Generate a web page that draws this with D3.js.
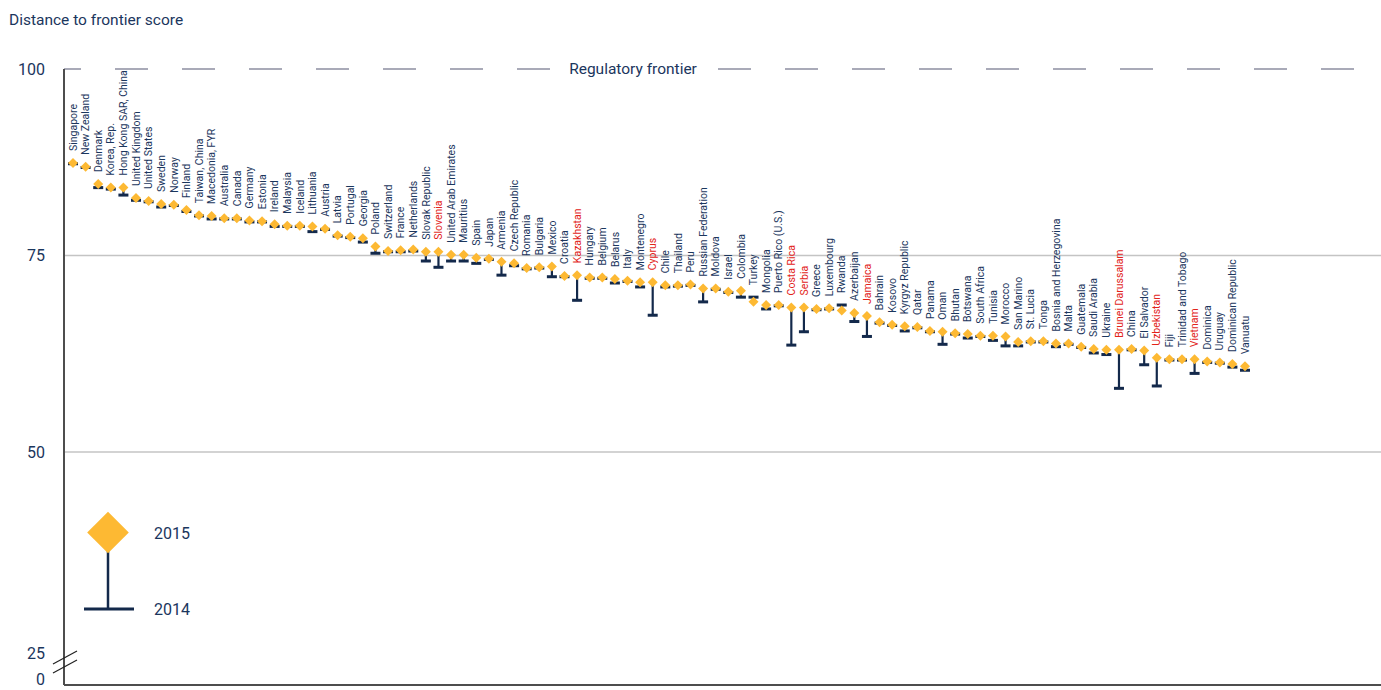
<!DOCTYPE html>
<html>
<head>
<meta charset="utf-8">
<script src="https://cdn.jsdelivr.net/npm/d3@7"></script>
<style>
  body { margin: 0; background: #fff; }
  svg text { font-family: Roboto, "Open Sans", sans-serif; }
</style>
</head>
<body>
<div id="chart"></div>
<script>
// country order as shown, left to right
const countries = [
  "Singapore", "New Zealand", "Denmark", "Korea, Rep.", "Hong Kong SAR, China",
  "United Kingdom", "United States", "Sweden", "Norway", "Finland",
  "Taiwan, China", "Macedonia, FYR", "Australia", "Canada", "Germany",
  "Estonia", "Ireland", "Malaysia", "Iceland", "Lithuania",
  "Austria", "Latvia", "Portugal", "Georgia", "Poland",
  "Switzerland", "France", "Netherlands", "Slovak Republic", "Slovenia",
  "United Arab Emirates", "Mauritius", "Spain", "Japan", "Armenia",
  "Czech Republic", "Romania", "Bulgaria", "Mexico", "Croatia",
  "Kazakhstan", "Hungary", "Belgium", "Belarus", "Italy",
  "Montenegro", "Cyprus", "Chile", "Thailand", "Peru",
  "Russian Federation", "Moldova", "Israel", "Colombia", "Turkey",
  "Mongolia", "Puerto Rico (U.S.)", "Costa Rica", "Serbia", "Greece",
  "Luxembourg", "Rwanda", "Azerbaijan", "Jamaica", "Bahrain",
  "Kosovo", "Kyrgyz Republic", "Qatar", "Panama", "Oman",
  "Bhutan", "Botswana", "South Africa", "Tunisia", "Morocco",
  "San Marino", "St. Lucia", "Tonga", "Bosnia and Herzegovina", "Malta",
  "Guatemala", "Saudi Arabia", "Ukraine", "Brunei Darussalam", "China",
  "El Salvador", "Uzbekistan", "Fiji", "Trinidad and Tobago", "Vietnam",
  "Dominica", "Uruguay", "Dominican Republic", "Vanuatu"
];

// distance to frontier, 2015 (diamonds)
const score2015 = [
  87.4, 86.9, 84.6, 84.1, 84.1, 82.7, 82.3, 81.9, 81.8, 81.1,
  80.4, 80.3, 80.0, 80.0, 79.7, 79.6, 79.2, 79.0, 79.0, 78.9,
  78.6, 77.7, 77.5, 77.3, 76.2, 75.6, 75.7, 75.8, 75.5, 75.5,
  75.1, 75.1, 74.7, 74.6, 74.2, 74.0, 73.4, 73.5, 73.6, 72.4,
  72.5, 72.2, 72.2, 72.0, 71.8, 71.6, 71.6, 71.2, 71.2, 71.3,
  70.8, 70.8, 70.4, 70.5, 69.1, 68.7, 68.7, 68.4, 68.4, 68.2,
  68.3, 68.0, 67.7, 67.3, 66.5, 66.2, 66.0, 65.9, 65.4, 65.3,
  65.1, 65.0, 64.8, 64.8, 64.7, 64.0, 64.1, 64.1, 63.8, 63.8,
  63.4, 63.1, 63.0, 63.0, 63.1, 62.9, 62.0, 61.8, 61.8, 61.8,
  61.5, 61.4, 61.2, 60.9
];

// distance to frontier, 2014 (bars)
const score2014 = [
  87.3, 86.8, 84.1, 83.9, 83.1, 82.4, 82.2, 81.5, 81.7, 80.9,
  80.3, 79.9, 79.9, 79.9, 79.5, 79.5, 78.9, 78.9, 78.9, 78.2,
  78.5, 77.6, 77.4, 76.8, 75.3, 75.5, 75.5, 75.6, 74.3, 73.5,
  74.3, 74.3, 74.0, 74.5, 72.5, 73.7, 73.3, 73.4, 72.3, 72.3,
  69.3, 72.1, 72.1, 71.5, 71.7, 71.0, 67.4, 71.0, 71.1, 71.2,
  69.1, 70.7, 70.3, 69.7, 69.7, 68.2, 68.6, 63.6, 65.3, 68.1,
  68.2, 68.7, 66.6, 64.7, 66.4, 66.1, 65.4, 65.8, 65.3, 63.7,
  65.0, 64.5, 64.7, 64.2, 63.5, 63.5, 64.0, 64.0, 63.4, 63.7,
  63.3, 62.6, 62.4, 58.1, 63.0, 61.1, 58.4, 61.7, 61.7, 60.0,
  61.4, 61.3, 60.8, 60.4
];

// labels printed in red
const highlighted = ["Slovenia", "Kazakhstan", "Cyprus", "Costa Rica", "Serbia",
  "Jamaica", "Brunei Darussalam", "Uzbekistan", "Vietnam"];

const yTicks = [0, 25, 50, 75, 100];
const gridTicks = [50, 75];
const legendItems = ["2015", "2014"];

const width = 1381, height = 690;
const navy = "#1b365d", dark = "#13294b", gold = "#fdb933", red = "#e2231a";

const svg = d3.select("#chart").append("svg")
    .attr("width", width)
    .attr("height", height);

// broken axis: 0-25 squeezed at the bottom
const y = d3.scaleLinear()
    .domain([0, 25, 50, 75, 100])
    .range([685, 653, 452, 255.5, 69]);

const x = d3.scalePoint()
    .domain(countries)
    .range([73, 1245]);

const axisX = 64;

// title
svg.append("text")
    .attr("x", 9)
    .attr("y", 25)
    .style("font-size", "15.5px")
    .style("fill", navy)
    .text("Distance to frontier score");

// gridlines
svg.selectAll(".grid")
    .data(gridTicks)
    .join("line")
    .attr("x1", axisX)
    .attr("x2", width)
    .attr("y1", d => y(d))
    .attr("y2", d => y(d))
    .style("stroke", "#c4c4c4")
    .style("stroke-width", 1.5);

// regulatory frontier (dashed at 100)
svg.append("line")
    .attr("x1", axisX)
    .attr("x2", width)
    .attr("y1", y(100))
    .attr("y2", y(100))
    .style("stroke", "#a9aab8")
    .style("stroke-width", 1.8)
    .style("stroke-dasharray", "33,34")
    .style("stroke-dashoffset", 16);

svg.append("rect")
    .attr("x", 556)
    .attr("y", y(100) - 10)
    .attr("width", 154)
    .attr("height", 20)
    .style("fill", "#fff");

svg.append("text")
    .attr("x", 633)
    .attr("y", y(100))
    .attr("dy", "0.35em")
    .attr("text-anchor", "middle")
    .style("font-size", "15.5px")
    .style("fill", navy)
    .text("Regulatory frontier");

// y axis
svg.append("line")
    .attr("x1", axisX).attr("x2", axisX)
    .attr("y1", y(100)).attr("y2", y(0))
    .style("stroke", "#4d4d4d")
    .style("stroke-width", 2);

svg.append("line")
    .attr("x1", axisX).attr("x2", width)
    .attr("y1", y(0)).attr("y2", y(0))
    .style("stroke", "#4d4d4d")
    .style("stroke-width", 2);

svg.selectAll(".ytick")
    .data(yTicks)
    .join("text")
    .attr("x", 45)
    .attr("y", d => d === 0 ? 685 : y(d))
    .attr("dy", d => d === 0 ? "0" : "0.35em")
    .attr("text-anchor", "end")
    .style("font-size", "16px")
    .style("fill", navy)
    .text(d => d);

// axis break marks
[0, 9].forEach(off => {
  svg.append("line")
      .attr("x1", 53).attr("y1", 664 + off)
      .attr("x2", 77).attr("y2", 651 + off)
      .style("stroke", "#222")
      .style("stroke-width", 1.2);
});

// country data joined up
const rows = countries.map((c, i) => ({ name: c, v15: score2015[i], v14: score2014[i] }));

// stems 2014 -> 2015
svg.selectAll(".stem")
    .data(rows)
    .join("line")
    .attr("x1", d => x(d.name))
    .attr("x2", d => x(d.name))
    .attr("y1", d => y(d.v14))
    .attr("y2", d => y(d.v15))
    .style("stroke", dark)
    .style("stroke-width", 2.2);

// 2014 bars
svg.selectAll(".bar14")
    .data(rows)
    .join("rect")
    .attr("x", d => x(d.name) - 5)
    .attr("y", d => y(d.v14) - 1.5)
    .attr("width", 10)
    .attr("height", 3)
    .style("fill", dark);

// 2015 diamonds
const diamond = d3.symbol().type(d3.symbolSquare).size(50);
svg.selectAll(".dia")
    .data(rows)
    .join("path")
    .attr("d", diamond)
    .attr("transform", d => `translate(${x(d.name)},${y(d.v15)}) rotate(45)`)
    .style("fill", gold);

// country labels
svg.selectAll(".lbl")
    .data(rows)
    .join("text")
    .attr("transform", d => `translate(${x(d.name)},${y(Math.max(d.v15, d.v14)) - 12}) rotate(-90)`)
    .attr("dy", "0.35em")
    .attr("text-anchor", "start")
    .style("font-size", "10.5px")
    .style("fill", d => highlighted.includes(d.name) ? red : navy)
    .text(d => d.name);

// legend
const lg = svg.append("g");
lg.append("line")
    .attr("x1", 108).attr("x2", 108)
    .attr("y1", 540).attr("y2", 609)
    .style("stroke", dark)
    .style("stroke-width", 2.5);
lg.append("rect")
    .attr("x", 84).attr("y", 607.5)
    .attr("width", 50).attr("height", 3)
    .style("fill", dark);
lg.append("path")
    .attr("d", d3.symbol().type(d3.symbolSquare).size(865))
    .attr("transform", "translate(108,532.5) rotate(45)")
    .style("fill", gold);
lg.selectAll(".lgtxt")
    .data(legendItems)
    .join("text")
    .attr("x", 154)
    .attr("y", (d, i) => i === 0 ? 533 : 609)
    .attr("dy", "0.35em")
    .style("font-size", "16px")
    .style("fill", navy)
    .text(d => d);
</script>
</body>
</html>
